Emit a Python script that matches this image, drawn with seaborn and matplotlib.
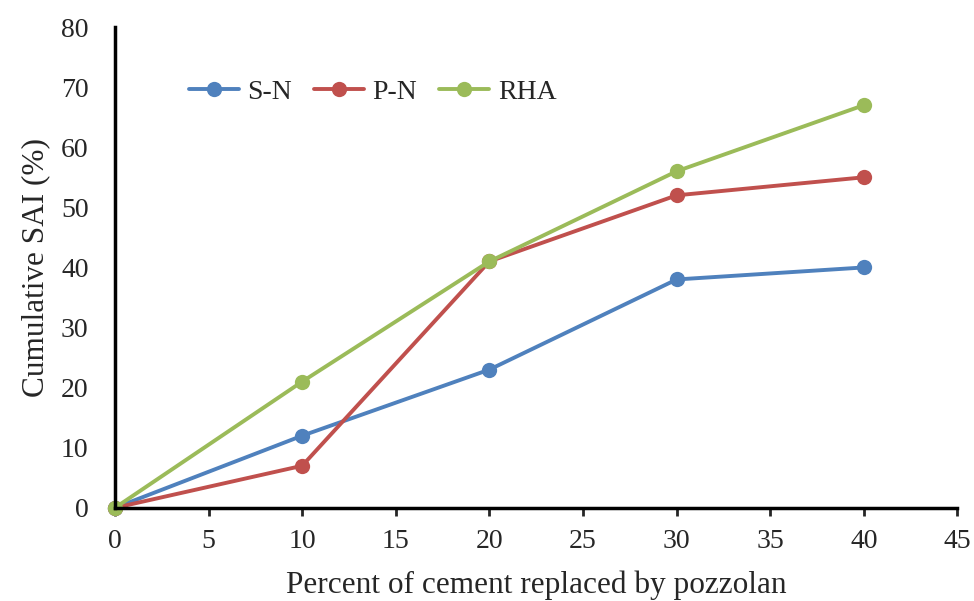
"""
Cumulative SAI vs. percent of cement replaced by pozzolan.
"""
import numpy as np
import pandas as pd
import seaborn as sns
import matplotlib.pyplot as plt

# ── Dados ──────────────────────────────────────────────
replacement = [0, 10, 20, 30, 40]
sai_sn = [0, 12, 23, 38, 40]
sai_pn = [0, 7, 41, 52, 55]
sai_rha = [0, 21, 41, 56, 67]
series_names = ["S-N", "P-N", "RHA"]
colors = ["#4F81BD", "#C0504D", "#9BBB59"]
x_ticks = list(range(0, 50, 5))
y_ticks = list(range(0, 90, 10))

df = pd.DataFrame({
    "x": replacement * 3,
    "y": sai_sn + sai_pn + sai_rha,
    "serie": np.repeat(series_names, len(replacement)),
})

sns.set_style("white")
plt.rcParams["font.family"] = ["Liberation Serif", "DejaVu Serif"]

fig = plt.figure(figsize=(9.74, 6.01), dpi=100)
ax = fig.add_axes([0.118, 0.155, 0.865, 0.80])

sns.lineplot(
    data=df, x="x", y="y", hue="serie", palette=colors,
    hue_order=series_names, marker="o", markersize=11,
    markeredgewidth=0, linewidth=2.8, ax=ax,
)

ax.set_xlim(0, 45)
ax.set_ylim(0, 80)
ax.set_xticks(x_ticks)
ax.set_yticks(y_ticks)
ax.tick_params(axis="x", direction="out", length=6, width=2,
               labelsize=20, pad=9, bottom=True)
ax.tick_params(axis="y", length=0, labelsize=20, pad=19)
for side in ["top", "right"]:
    ax.spines[side].set_visible(False)
for side in ["left", "bottom"]:
    ax.spines[side].set_linewidth(2.5)
    ax.spines[side].set_color("black")
for line in ax.lines:
    line.set_clip_on(False)

ax.set_xlabel("Percent of cement replaced by pozzolan", fontsize=22.5, labelpad=12)
ax.set_ylabel("Cumulative SAI (%)", fontsize=22.5, labelpad=8)

ax.legend(
    title=None, ncol=3, frameon=False, fontsize=20,
    loc="center left", bbox_to_anchor=(0.058, 0.865),
    handlelength=1.8, columnspacing=0.8, handletextpad=0.3,
)

plt.savefig("out.png", dpi=100)
